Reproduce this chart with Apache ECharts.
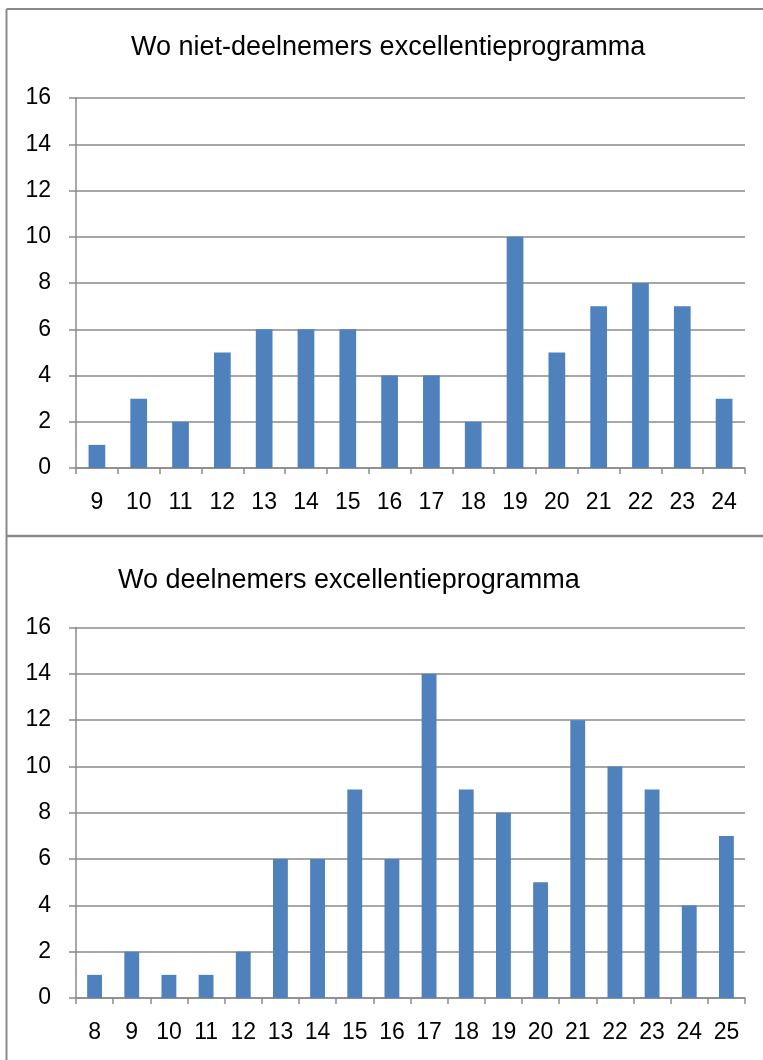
<!DOCTYPE html>
<html>
<head>
<meta charset="utf-8">
<script src="https://cdn.jsdelivr.net/npm/echarts@6/dist/echarts.min.js"></script>
<style>
html,body{margin:0;padding:0;background:#fff;}
#c{width:763px;height:1060px;}
</style>
</head>
<body>
<div id="c"></div>
<script>
const topTitle = 'Wo niet-deelnemers excellentieprogramma';
const topCategories = ['9','10','11','12','13','14','15','16','17','18','19','20','21','22','23','24'];
const topValues = [1,3,2,5,6,6,6,4,4,2,10,5,7,8,7,3];

const bottomTitle = 'Wo deelnemers excellentieprogramma';
const bottomCategories = ['8','9','10','11','12','13','14','15','16','17','18','19','20','21','22','23','24','25'];
const bottomValues = [1,2,1,1,2,6,6,9,6,14,9,8,5,12,10,9,4,7];

const yMin = 0, yMax = 16, yStep = 2;

const FONT = 'Liberation Sans, Arial, sans-serif';
const GRID_COLOR = '#8a8a8a';
const BAR_COLOR = '#4f81bd';
const LABEL_SIZE = 23;

function xAxis(cats, gridIndex) {
  return {
    type: 'category', gridIndex, data: cats, boundaryGap: true,
    axisLine: {show: true, lineStyle: {color: GRID_COLOR, width: 1.5}},
    axisTick: {show: true, length: 6, lineStyle: {color: GRID_COLOR, width: 1.5}},
    axisLabel: {color: '#000', fontSize: LABEL_SIZE, fontFamily: FONT, margin: 23, interval: 0}
  };
}
function yAxis(gridIndex) {
  return {
    type: 'value', gridIndex, min: yMin, max: yMax, interval: yStep,
    axisLine: {show: true, lineStyle: {color: GRID_COLOR, width: 1.5}},
    axisTick: {show: true, length: 7, lineStyle: {color: GRID_COLOR, width: 1.5}},
    splitLine: {show: true, lineStyle: {color: GRID_COLOR, width: 1.5}},
    axisLabel: {color: '#000', fontSize: LABEL_SIZE, fontFamily: FONT, margin: 25}
  };
}

const chart = echarts.init(document.getElementById('c'), null, {renderer: 'canvas'});
chart.setOption({
  backgroundColor: '#fff',
  animation: false,
  grid: [
    {left: 76, top: 98, width: 669, height: 370},
    {left: 76, top: 627.5, width: 669, height: 370.5}
  ],
  xAxis: [xAxis(topCategories, 0), xAxis(bottomCategories, 1)],
  yAxis: [yAxis(0), yAxis(1)],
  series: [
    {type: 'bar', xAxisIndex: 0, yAxisIndex: 0, data: topValues, barWidth: '40%',
     itemStyle: {color: BAR_COLOR}},
    {type: 'bar', xAxisIndex: 1, yAxisIndex: 1, data: bottomValues, barWidth: '40%',
     itemStyle: {color: BAR_COLOR}}
  ],
  graphic: [
    {type: 'line', shape: {x1: 6.5, y1: 9, x2: 6.5, y2: 1060}, style: {stroke: GRID_COLOR, lineWidth: 2}},
    {type: 'line', shape: {x1: 6.5, y1: 9, x2: 763, y2: 9}, style: {stroke: GRID_COLOR, lineWidth: 2}},
    {type: 'line', shape: {x1: 6.5, y1: 536, x2: 763, y2: 536}, style: {stroke: GRID_COLOR, lineWidth: 2.5}},
    {type: 'text', x: 131, y: 48, style: {text: topTitle, fill: '#000', font: '27px ' + FONT,
      align: 'left', verticalAlign: 'middle'}},
    {type: 'text', x: 118, y: 581, style: {text: bottomTitle, fill: '#000', font: '27px ' + FONT,
      align: 'left', verticalAlign: 'middle'}}
  ]
});
</script>
</body>
</html>
